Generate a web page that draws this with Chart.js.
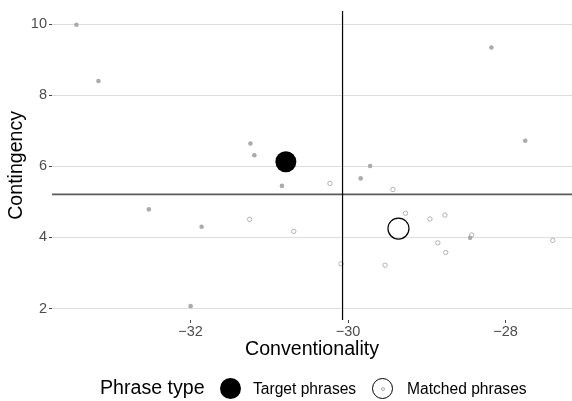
<!DOCTYPE html>
<html>
<head>
<meta charset="utf-8">
<script src="https://cdn.jsdelivr.net/npm/chart.js@4/dist/chart.umd.min.js"></script>
<style>
  html,body{margin:0;padding:0;background:#fff;}
  #wrap{position:relative;width:572px;height:401px;overflow:hidden;font-family:"Liberation Sans",Arial,sans-serif;}
  #c{position:absolute;left:0;top:0;}
  .lg{position:absolute;white-space:nowrap;line-height:1;}
  .dot{position:absolute;border-radius:50%;box-sizing:border-box;}
</style>
</head>
<body>
<div id="wrap">
  <canvas id="c" width="572" height="401"></canvas>
  <span class="lg" id="lgTitle" style="left:100px;top:378px;font-size:19.6px;color:#000;">Phrase type</span>
  <div class="dot" style="left:219.5px;top:378px;width:21px;height:21px;background:#000;"></div>
  <span class="lg" style="left:253px;top:381px;font-size:15.6px;color:#000;">Target phrases</span>
  <div class="dot" style="left:372px;top:378px;width:21px;height:21px;border:1px solid #000;background:#fff;"></div>
  <div class="dot" style="left:380.5px;top:386.5px;width:4px;height:4px;border:0.8px solid #aaa;"></div>
  <span class="lg" style="left:407px;top:381px;font-size:15.6px;color:#000;">Matched phrases</span>
</div>
<script>
// ---- data ----
const targetX  = [-33.45, -33.17, -31.24, -31.19, -28.18, -27.75, -29.72, -30.84, -32.53, -31.86, -32.00, -29.84, -28.45];
const targetY  = [  9.98,   8.40,   6.64,   6.31,   9.34,   6.72,   6.01,   5.45,   4.79,   4.30,   2.07,   5.66,   3.99];
const matchedX = [-31.25, -30.69, -30.23, -29.43, -29.27, -28.96, -28.77, -28.86, -28.76, -28.43, -27.40, -30.09, -29.53];
const matchedY = [  4.51,   4.17,   5.52,   5.35,   4.68,   4.52,   4.63,   3.85,   3.58,   4.07,   3.92,   3.26,   3.22];
const targetMean  = [-30.79, 6.13];
const matchedMean = [-29.36, 4.25];
const refLineX = -30.07;   // vertical reference line
const refLineY = 5.21;     // horizontal reference line
const xTicks = [-32, -30, -28];
const yTicks = [2, 4, 6, 8, 10];
const xRange = [-33.76, -27.156];
const yRange = [1.68, 10.375];

const FONT = '"Liberation Sans", Arial, sans-serif';
const pts = (xs, ys) => xs.map((x, i) => ({x: x, y: ys[i]}));
const minus = v => String(v).replace('-', '\u2212');

new Chart(document.getElementById('c'), {
  type: 'scatter',
  data: {
    datasets: [
      { type:'line', data:[{x:refLineX, y:yRange[0]}, {x:refLineX, y:yRange[1]}], borderColor:'#000', borderWidth:1.2, pointRadius:0, fill:false },
      { type:'line', data:[{x:xRange[0], y:refLineY}, {x:xRange[1], y:refLineY}], borderColor:'#5a5a5a', borderWidth:1.8, pointRadius:0, fill:false },
      { label:'Target phrases', data: pts(targetX, targetY), pointRadius:2.3, pointBackgroundColor:'#ababab', pointBorderWidth:0, pointBorderColor:'#ababab' },
      { label:'Matched phrases', data: pts(matchedX, matchedY), pointRadius:2.2, pointBackgroundColor:'rgba(255,255,255,0)', pointBorderColor:'#ababab', pointBorderWidth:0.9 },
      { label:'Target mean', data:[{x:targetMean[0], y:targetMean[1]}], pointRadius:10.5, pointBackgroundColor:'#000', pointBorderWidth:0 },
      { label:'Matched mean', data:[{x:matchedMean[0], y:matchedMean[1]}], pointRadius:10.5, pointBackgroundColor:'rgba(255,255,255,0)', pointBorderColor:'#000', pointBorderWidth:1.2 }
    ]
  },
  options: {
    responsive:false, animation:false, devicePixelRatio:1,
    layout:{ autoPadding:false, padding:{ top:10, left:0, right:0, bottom:40 } },
    plugins:{ legend:{ display:false }, tooltip:{ enabled:false } },
    scales:{
      x:{
        type:'linear', min:xRange[0], max:xRange[1],
        afterBuildTicks: s => { s.ticks = xTicks.map(v => ({value:v})); },
        afterFit: s => { s.height = 41; },
        grid:{ drawOnChartArea:false, drawTicks:true, tickLength:3, tickColor:'#444', lineWidth:1 },
        border:{ display:false },
        ticks:{ color:'#4d4d4d', font:{ size:14.5, family:FONT }, padding:0, maxRotation:0, autoSkip:false, callback: v => minus(v) },
        title:{ display:true, text:'Conventionality', color:'#000', font:{ size:19.6, family:FONT }, padding:0 }
      },
      y:{
        type:'linear', min:yRange[0], max:yRange[1],
        afterBuildTicks: s => { s.ticks = yTicks.map(v => ({value:v})); },
        afterFit: s => { s.width = 52; },
        grid:{ color:'#dedede', lineWidth:1, drawTicks:true, tickLength:3, tickColor:'#444' },
        border:{ display:false },
        ticks:{ color:'#4d4d4d', font:{ size:14.5, family:FONT }, padding:2, autoSkip:false, callback: v => minus(v) },
        title:{ display:true, text:'Contingency', color:'#000', font:{ size:19.6, family:FONT }, padding:{ top:5, bottom:0 } }
      }
    }
  }
});
</script>
</body>
</html>
